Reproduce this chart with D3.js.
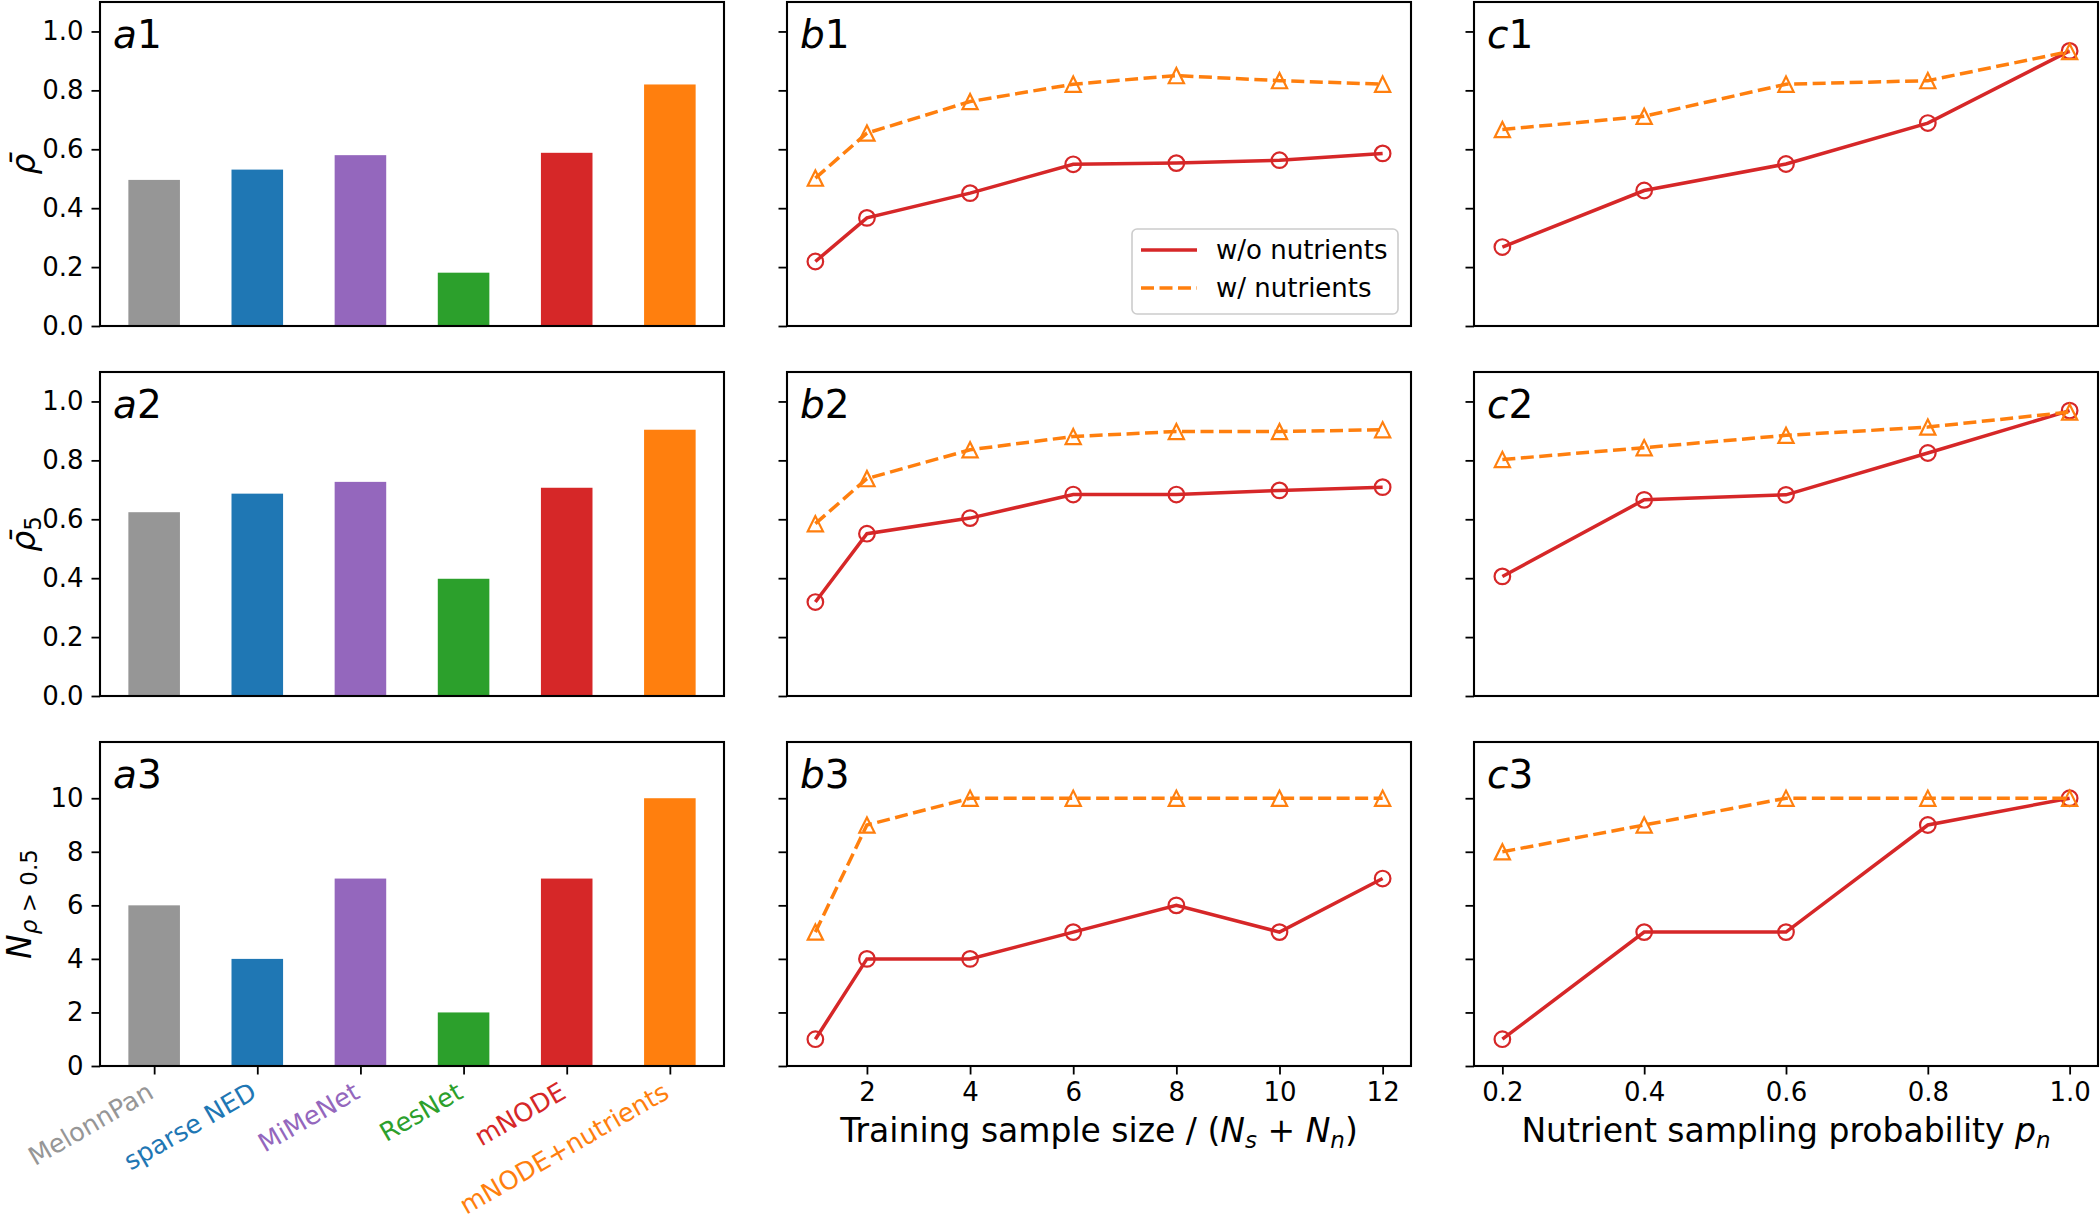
<!DOCTYPE html>
<html>
<head>
<meta charset="utf-8">
<script src="https://cdn.jsdelivr.net/npm/d3@7"></script>
<style>
  body { margin: 0; background: #fff; }
  svg { display: block; font-family: "DejaVu Sans", sans-serif; }
</style>
</head>
<body>
<svg id="chart" width="2100" height="1219"></svg>
<script>
// ---- data ----
const methods = ["MelonnPan", "sparse NED", "MiMeNet", "ResNet", "mNODE", "mNODE+nutrients"];
const rhoMean = [0.496, 0.531, 0.580, 0.181, 0.588, 0.820];
const rhoTop5 = [0.624, 0.687, 0.727, 0.398, 0.707, 0.904];
const nAbove = [6, 4, 7, 2, 7, 10];

const sampleSizes = [1, 2, 4, 6, 8, 10, 12];
const bRhoWithout = [0.219, 0.367, 0.451, 0.549, 0.553, 0.563, 0.586];
const bRhoWith = [0.502, 0.655, 0.762, 0.821, 0.850, 0.833, 0.821];
const bRho5Without = [0.319, 0.551, 0.604, 0.684, 0.684, 0.698, 0.709];
const bRho5With = [0.585, 0.738, 0.836, 0.881, 0.898, 0.898, 0.904];
const bNWithout = [1, 4, 4, 5, 6, 5, 7];
const bNWith = [5, 9, 10, 10, 10, 10, 10];

const samplingProbs = [0.2, 0.4, 0.6, 0.8, 1.0];
const cRhoWithout = [0.268, 0.460, 0.550, 0.689, 0.934];
const cRhoWith = [0.667, 0.712, 0.821, 0.833, 0.932];
const cRho5Without = [0.406, 0.666, 0.683, 0.825, 0.969];
const cRho5With = [0.803, 0.843, 0.885, 0.913, 0.964];
const cNWithout = [1, 5, 5, 9, 10];
const cNWith = [8, 9, 10, 10, 10];

const rhoTicks = [0, 0.2, 0.4, 0.6, 0.8, 1.0];
const countTicks = [0, 2, 4, 6, 8, 10];
const sizeTicks = [2, 4, 6, 8, 10, 12];
const probTicks = [0.2, 0.4, 0.6, 0.8, 1.0];

const seriesNames = ["w/o nutrients", "w/ nutrients"];

// ---- styles ----
const methodColors = ["#969696", "#1f77b4", "#9467bd", "#2ca02c", "#d62728", "#ff7f0e"];
const RED = "#d62728", ORANGE = "#ff7f0e";
const DASH = "13,5.5";
const TICK_FONT = 26, TITLE_FONT = 33, SUB_FONT = 23;
const TICK_LEN = 8.5;

const svg = d3.select("#chart");
const colLeft = [100, 787, 1474];
const rowTop = [2, 372, 742];
const W = 624, H = 324;

// y domains per row (shared across a row)
const yDomains = [[0, 1.1], [0, 1.1], [0, 12.1]];
const yTicks = [rhoTicks, rhoTicks, countTicks];

function yScaleFor(row) {
  return d3.scaleLinear().domain(yDomains[row]).range([H, 0]);
}

function styleAxis(g) {
  g.select(".domain").remove();
  g.selectAll(".tick line").attr("stroke", "#000").attr("stroke-width", 1.8);
  g.selectAll(".tick text")
    .attr("fill", "#000")
    .attr("font-size", TICK_FONT)
    .attr("font-family", "DejaVu Sans");
}

function panel(col, row) {
  return svg.append("g").attr("transform", `translate(${colLeft[col]},${rowTop[row]})`);
}

function drawYAxis(g, row, withLabels) {
  const y = yScaleFor(row);
  const fmt = row < 2 ? d3.format(".1f") : d3.format("d");
  const ax = g.append("g")
    .call(d3.axisLeft(y).tickValues(yTicks[row]).tickSize(TICK_LEN).tickPadding(8)
      .tickFormat(withLabels ? fmt : ""));
  styleAxis(ax);
}

function drawFrame(g) {
  g.append("rect")
    .attr("width", W).attr("height", H)
    .attr("fill", "none").attr("stroke", "#000").attr("stroke-width", 2.1);
}

function panelLabel(g, letter, num) {
  const t = g.append("text").attr("x", 13).attr("y", 46).attr("font-size", 39);
  t.append("tspan").attr("font-style", "italic").text(letter);
  t.append("tspan").text(num);
}

// ---- column a: bars ----
const barSets = [rhoMean, rhoTop5, nAbove];
barSets.forEach((vals, row) => {
  const g = panel(0, row);
  const x = d3.scaleLinear().domain([-0.525, 5.525]).range([0, W]);
  const y = yScaleFor(row);
  const bw = x(0.5) - x(0);

  g.selectAll("rect.bar")
    .data(vals)
    .join("rect")
    .attr("class", "bar")
    .attr("x", (d, i) => x(i) - bw / 2)
    .attr("width", bw)
    .attr("y", d => y(d))
    .attr("height", d => y(0) - y(d))
    .attr("fill", (d, i) => methodColors[i]);

  drawYAxis(g, row, true);

  if (row === 2) {
    const ax = g.append("g")
      .attr("transform", `translate(0,${H})`)
      .call(d3.axisBottom(x).tickValues(d3.range(methods.length)).tickSize(TICK_LEN).tickFormat(""));
    styleAxis(ax);

    // rotated, right-aligned category labels in the bar colours
    g.selectAll("text.method")
      .data(methods)
      .join("text")
      .attr("class", "method")
      .attr("transform", (d, i) => `translate(${x(i) + 1},${H + 31}) rotate(-30)`)
      .attr("text-anchor", "end")
      .attr("font-size", 25.5)
      .attr("fill", (d, i) => methodColors[i])
      .text(d => d);
  }

  drawFrame(g);
  panelLabel(g, "a", row + 1);
});

// ---- columns b, c: lines ----
function linePanel(col, row, xs, xDomain, lo, hi) {
  const g = panel(col, row);
  const x = d3.scaleLinear().domain(xDomain).range([0, W]);
  const y = yScaleFor(row);
  const line = d3.line().x(d => x(d[0])).y(d => y(d[1]));

  drawYAxis(g, row, false);

  // w/o nutrients: solid red, open circles
  const redPts = xs.map((v, i) => [v, lo[i]]);
  g.append("path").datum(redPts)
    .attr("d", line).attr("fill", "none")
    .attr("stroke", RED).attr("stroke-width", 3.5);
  g.selectAll("circle.m").data(redPts).join("circle")
    .attr("class", "m")
    .attr("cx", d => x(d[0])).attr("cy", d => y(d[1])).attr("r", 7.8)
    .attr("fill", "none").attr("stroke", RED).attr("stroke-width", 2.2);

  // w/ nutrients: dashed orange, open triangles
  const orPts = xs.map((v, i) => [v, hi[i]]);
  g.append("path").datum(orPts)
    .attr("d", line).attr("fill", "none")
    .attr("stroke", ORANGE).attr("stroke-width", 3.5)
    .attr("stroke-dasharray", DASH);
  const h = 7.6;
  g.selectAll("path.tri").data(orPts).join("path")
    .attr("class", "tri")
    .attr("d", d => {
      const cx = x(d[0]), cy = y(d[1]);
      return `M${cx},${cy - h}L${cx - h},${cy + h}L${cx + h},${cy + h}Z`;
    })
    .attr("fill", "none").attr("stroke", ORANGE).attr("stroke-width", 2.2);

  return { g, x };
}

const bData = [[bRhoWithout, bRhoWith], [bRho5Without, bRho5With], [bNWithout, bNWith]];
const cData = [[cRhoWithout, cRhoWith], [cRho5Without, cRho5With], [cNWithout, cNWith]];

bData.forEach((pair, row) => {
  const p = linePanel(1, row, sampleSizes, [0.45, 12.55], pair[0], pair[1]);
  if (row === 2) {
    const ax = p.g.append("g").attr("transform", `translate(0,${H})`)
      .call(d3.axisBottom(p.x).tickValues(sizeTicks).tickSize(TICK_LEN).tickPadding(8).tickFormat(d3.format("d")));
    styleAxis(ax);
  }
  drawFrame(p.g);
  panelLabel(p.g, "b", row + 1);

  if (row === 0) {
    // legend
    const lg = p.g.append("g").attr("transform", `translate(${W - 279},${H - 97})`);
    lg.append("rect").attr("width", 266).attr("height", 85).attr("rx", 5)
      .attr("fill", "#fff").attr("fill-opacity", 0.8)
      .attr("stroke", "#cccccc").attr("stroke-width", 1.6);
    const items = [
      { name: seriesNames[0], color: RED, dash: null },
      { name: seriesNames[1], color: ORANGE, dash: DASH }
    ];
    items.forEach((it, i) => {
      const cy = 21 + i * 38;
      lg.append("line").attr("x1", 9).attr("x2", 65).attr("y1", cy).attr("y2", cy)
        .attr("stroke", it.color).attr("stroke-width", 3.5)
        .attr("stroke-dasharray", it.dash);
      lg.append("text").attr("x", 84).attr("y", cy + 9).attr("font-size", TICK_FONT).text(it.name);
    });
  }
});

cData.forEach((pair, row) => {
  const p = linePanel(2, row, samplingProbs, [0.16, 1.04], pair[0], pair[1]);
  if (row === 2) {
    const ax = p.g.append("g").attr("transform", `translate(0,${H})`)
      .call(d3.axisBottom(p.x).tickValues(probTicks).tickSize(TICK_LEN).tickPadding(8).tickFormat(d3.format(".1f")));
    styleAxis(ax);
  }
  drawFrame(p.g);
  panelLabel(p.g, "c", row + 1);
});

// ---- axis titles ----
const bxl = svg.append("text")
  .attr("x", colLeft[1] + W / 2).attr("y", 1142)
  .attr("text-anchor", "middle").attr("font-size", TITLE_FONT);
bxl.append("tspan").text("Training sample size / (");
bxl.append("tspan").attr("font-style", "italic").text("N");
bxl.append("tspan").attr("font-style", "italic").attr("font-size", SUB_FONT).attr("dy", 6).text("s");
bxl.append("tspan").attr("dy", -6).text(" + ");
bxl.append("tspan").attr("font-style", "italic").text("N");
bxl.append("tspan").attr("font-style", "italic").attr("font-size", SUB_FONT).attr("dy", 6).text("n");
bxl.append("tspan").attr("dy", -6).text(")");

const cxl = svg.append("text")
  .attr("x", colLeft[2] + W / 2).attr("y", 1142)
  .attr("text-anchor", "middle").attr("font-size", TITLE_FONT);
cxl.append("tspan").text("Nutrient sampling probability ");
cxl.append("tspan").attr("font-style", "italic").text("p");
cxl.append("tspan").attr("font-style", "italic").attr("font-size", SUB_FONT).attr("dy", 6).text("n");

function yTitle(row, xPos) {
  return svg.append("text")
    .attr("transform", `translate(${xPos},${rowTop[row] + H / 2}) rotate(-90)`)
    .attr("text-anchor", "middle").attr("font-size", TITLE_FONT);
}
yTitle(0, 35).append("tspan").attr("font-style", "italic").text("\u03C1\u0304");
const y2 = yTitle(1, 35);
y2.append("tspan").attr("font-style", "italic").text("\u03C1\u0304");
y2.append("tspan").attr("font-size", SUB_FONT).attr("dy", 6).text("5");
const y3 = yTitle(2, 31);
y3.append("tspan").attr("font-style", "italic").text("N");
y3.append("tspan").attr("font-style", "italic").attr("font-size", SUB_FONT).attr("dy", 6).text("\u03C1");
y3.append("tspan").attr("font-size", SUB_FONT).text(" > 0.5");
</script>
</body>
</html>
